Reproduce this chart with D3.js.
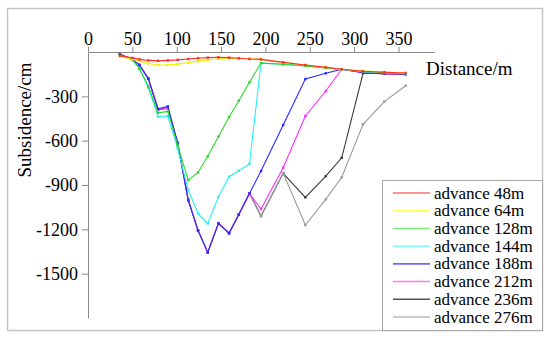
<!DOCTYPE html>
<html>
<head>
<meta charset="utf-8">
<script src="https://cdn.jsdelivr.net/npm/d3@7"></script>
<style>
  body { margin: 0; background: #fff; }
  svg text { font-family: "Liberation Serif", "Times New Roman", Tinos, "DejaVu Serif", serif; fill: #000; }
</style>
</head>
<body>
<div id="chart"></div>
<script>
// measuring points along the line (m)
var distance = [36, 50, 58, 68, 79, 90, 101, 113, 124, 135, 147, 159, 170, 182, 195, 220, 245, 268, 286, 310, 334, 358];

// subsidence (cm) for each advance
var adv48  = [-25, -40, -50, -57, -60, -57, -53, -47, -42, -38, -36, -38, -42, -47, -50, -70, -88, -104, -117, -130, -137, -142];
var adv64  = [-32, -48, -62, -78, -88, -88, -82, -72, -62, -53, -46, -43, -43, -46, -50, -70, -88, -104, -117, -128, -135, -141];
var adv128 = [-22, -50, -112, -232, -412, -402, -630, -867, -815, -706, -573, -440, -330, -205, -75, -83, -94, -108, -117, -132, -138, -143];
var adv144 = [-22, -52, -115, -240, -438, -433, -650, -934, -1092, -1160, -980, -844, -803, -758, -75, -83, -94, -108, -117, -133, -140, -145];
var adv188 = [-15, -50, -88, -180, -385, -368, -615, -1002, -1207, -1356, -1160, -1228, -1100, -957, -806, -494, -183, -144, -117, -140, -147, -150];
var adv212 = [-15, -50, -88, -180, -390, -375, -615, -1002, -1207, -1356, -1160, -1225, -1100, -957, -1063, -783, -433, -264, -117, -140, -147, -150];
var adv236 = [-15, -50, -88, -180, -392, -380, -618, -1002, -1207, -1356, -1160, -1225, -1100, -957, -1110, -821, -984, -840, -716, -144, -147, -150];
var adv276 = [-15, -50, -88, -180, -392, -380, -618, -1002, -1207, -1356, -1160, -1225, -1100, -957, -1110, -821, -1171, -997, -848, -489, -336, -228];

var seriesNames = ["advance 48m", "advance 64m", "advance 128m", "advance 144m", "advance 188m", "advance 212m", "advance 236m", "advance 276m"];
var seriesValues = [adv48, adv64, adv128, adv144, adv188, adv212, adv236, adv276];
var lineColors = ["#ff2a2a", "#f2f200", "#2ad82a", "#22f2f2", "#2a2aff", "#ff2aff", "#3a3a3a", "#9a9a9a"];
var legendColors = ["#ff7070", "#ffff55", "#77ee77", "#88ffff", "#6a6aff", "#ff77ff", "#555555", "#bbbbbb"];

var xTicks = [0, 50, 100, 150, 200, 250, 300, 350];
var yTicks = [-300, -600, -900, -1200, -1500];

window.onload = () => {
  var width = 550,
    height = 338;
  var serif = '"Liberation Serif", "Times New Roman", Tinos, "DejaVu Serif", serif';

  var svg = d3.select("#chart").append("svg")
    .attr("width", width)
    .attr("height", height)
    .style("font-family", serif);

  // outer frame
  svg.append("rect")
    .attr("x", 7.5).attr("y", 8.5)
    .attr("width", 535).attr("height", 322)
    .attr("fill", "none")
    .attr("stroke", "#c4c4c4")
    .attr("stroke-width", 1.5);

  var x = d3.scaleLinear()
    .domain([0, 390])
    .range([88, 434]);

  var y = d3.scaleLinear()
    .domain([-1800, 0])
    .range([318, 52]);

  // x axis sits on top, at zero subsidence
  var gx = svg.append("g")
    .attr("transform", "translate(0," + y(0) + ")")
    .call(d3.axisTop(x).tickValues(xTicks).tickSize(5).tickSizeOuter(0).tickPadding(2)
      .tickFormat(d => String(d)));

  var gy = svg.append("g")
    .attr("transform", "translate(" + x(0) + ",0)")
    .call(d3.axisLeft(y).tickValues(yTicks).tickSize(6).tickSizeOuter(0).tickPadding(4)
      .tickFormat(d => String(d)));

  [gx, gy].forEach(g => {
    g.attr("font-family", null).attr("font-size", null);
    g.select(".domain").attr("stroke", "#8a8a8a");
    g.selectAll(".tick line").attr("stroke", "#8a8a8a");
    g.selectAll(".tick text")
      .style("font-family", serif)
      .style("font-size", "18px")
      .attr("fill", "#000");
  });

  svg.append("text")
    .attr("x", 426).attr("y", 75)
    .style("font-family", serif)
    .style("font-size", "19px")
    .text("Distance/m");

  svg.append("text")
    .attr("transform", "translate(31,120) rotate(-90)")
    .attr("text-anchor", "middle")
    .style("font-family", serif)
    .style("font-size", "19px")
    .text("Subsidence/cm");

  var line = d3.line()
    .x((d, i) => x(distance[i]))
    .y(d => y(d));

  // later advances mostly underneath, so the early ones stay visible
  var order = [6, 7, 5, 4, 3, 2, 1, 0];
  order.forEach(k => {
    var g = svg.append("g");
    g.append("path")
      .datum(seriesValues[k])
      .attr("fill", "none")
      .attr("stroke", lineColors[k])
      .attr("stroke-width", 1.1)
      .attr("d", line);
    g.selectAll("rect")
      .data(seriesValues[k])
      .join("rect")
      .attr("x", (d, i) => x(distance[i]) - 1.2)
      .attr("y", d => y(d) - 1.2)
      .attr("width", 2.4)
      .attr("height", 2.4)
      .attr("fill", lineColors[k]);
  });

  // legend
  var legend = svg.append("g");
  legend.append("rect")
    .attr("x", 382.5).attr("y", 180.5)
    .attr("width", 160).attr("height", 150)
    .attr("fill", "#fff")
    .attr("stroke", "#a8a8a8");

  var rowY = d3.scalePoint()
    .domain(seriesNames)
    .range([193, 317]);

  seriesNames.forEach((name, k) => {
    legend.append("line")
      .attr("x1", 393).attr("x2", 430)
      .attr("y1", rowY(name)).attr("y2", rowY(name))
      .attr("stroke", legendColors[k])
      .attr("stroke-width", 1.6);
    legend.append("text")
      .attr("x", 434).attr("y", rowY(name))
      .attr("dy", "0.33em")
      .style("font-family", serif)
      .style("font-size", "17px")
      .text(name);
  });
};
</script>
</body>
</html>
